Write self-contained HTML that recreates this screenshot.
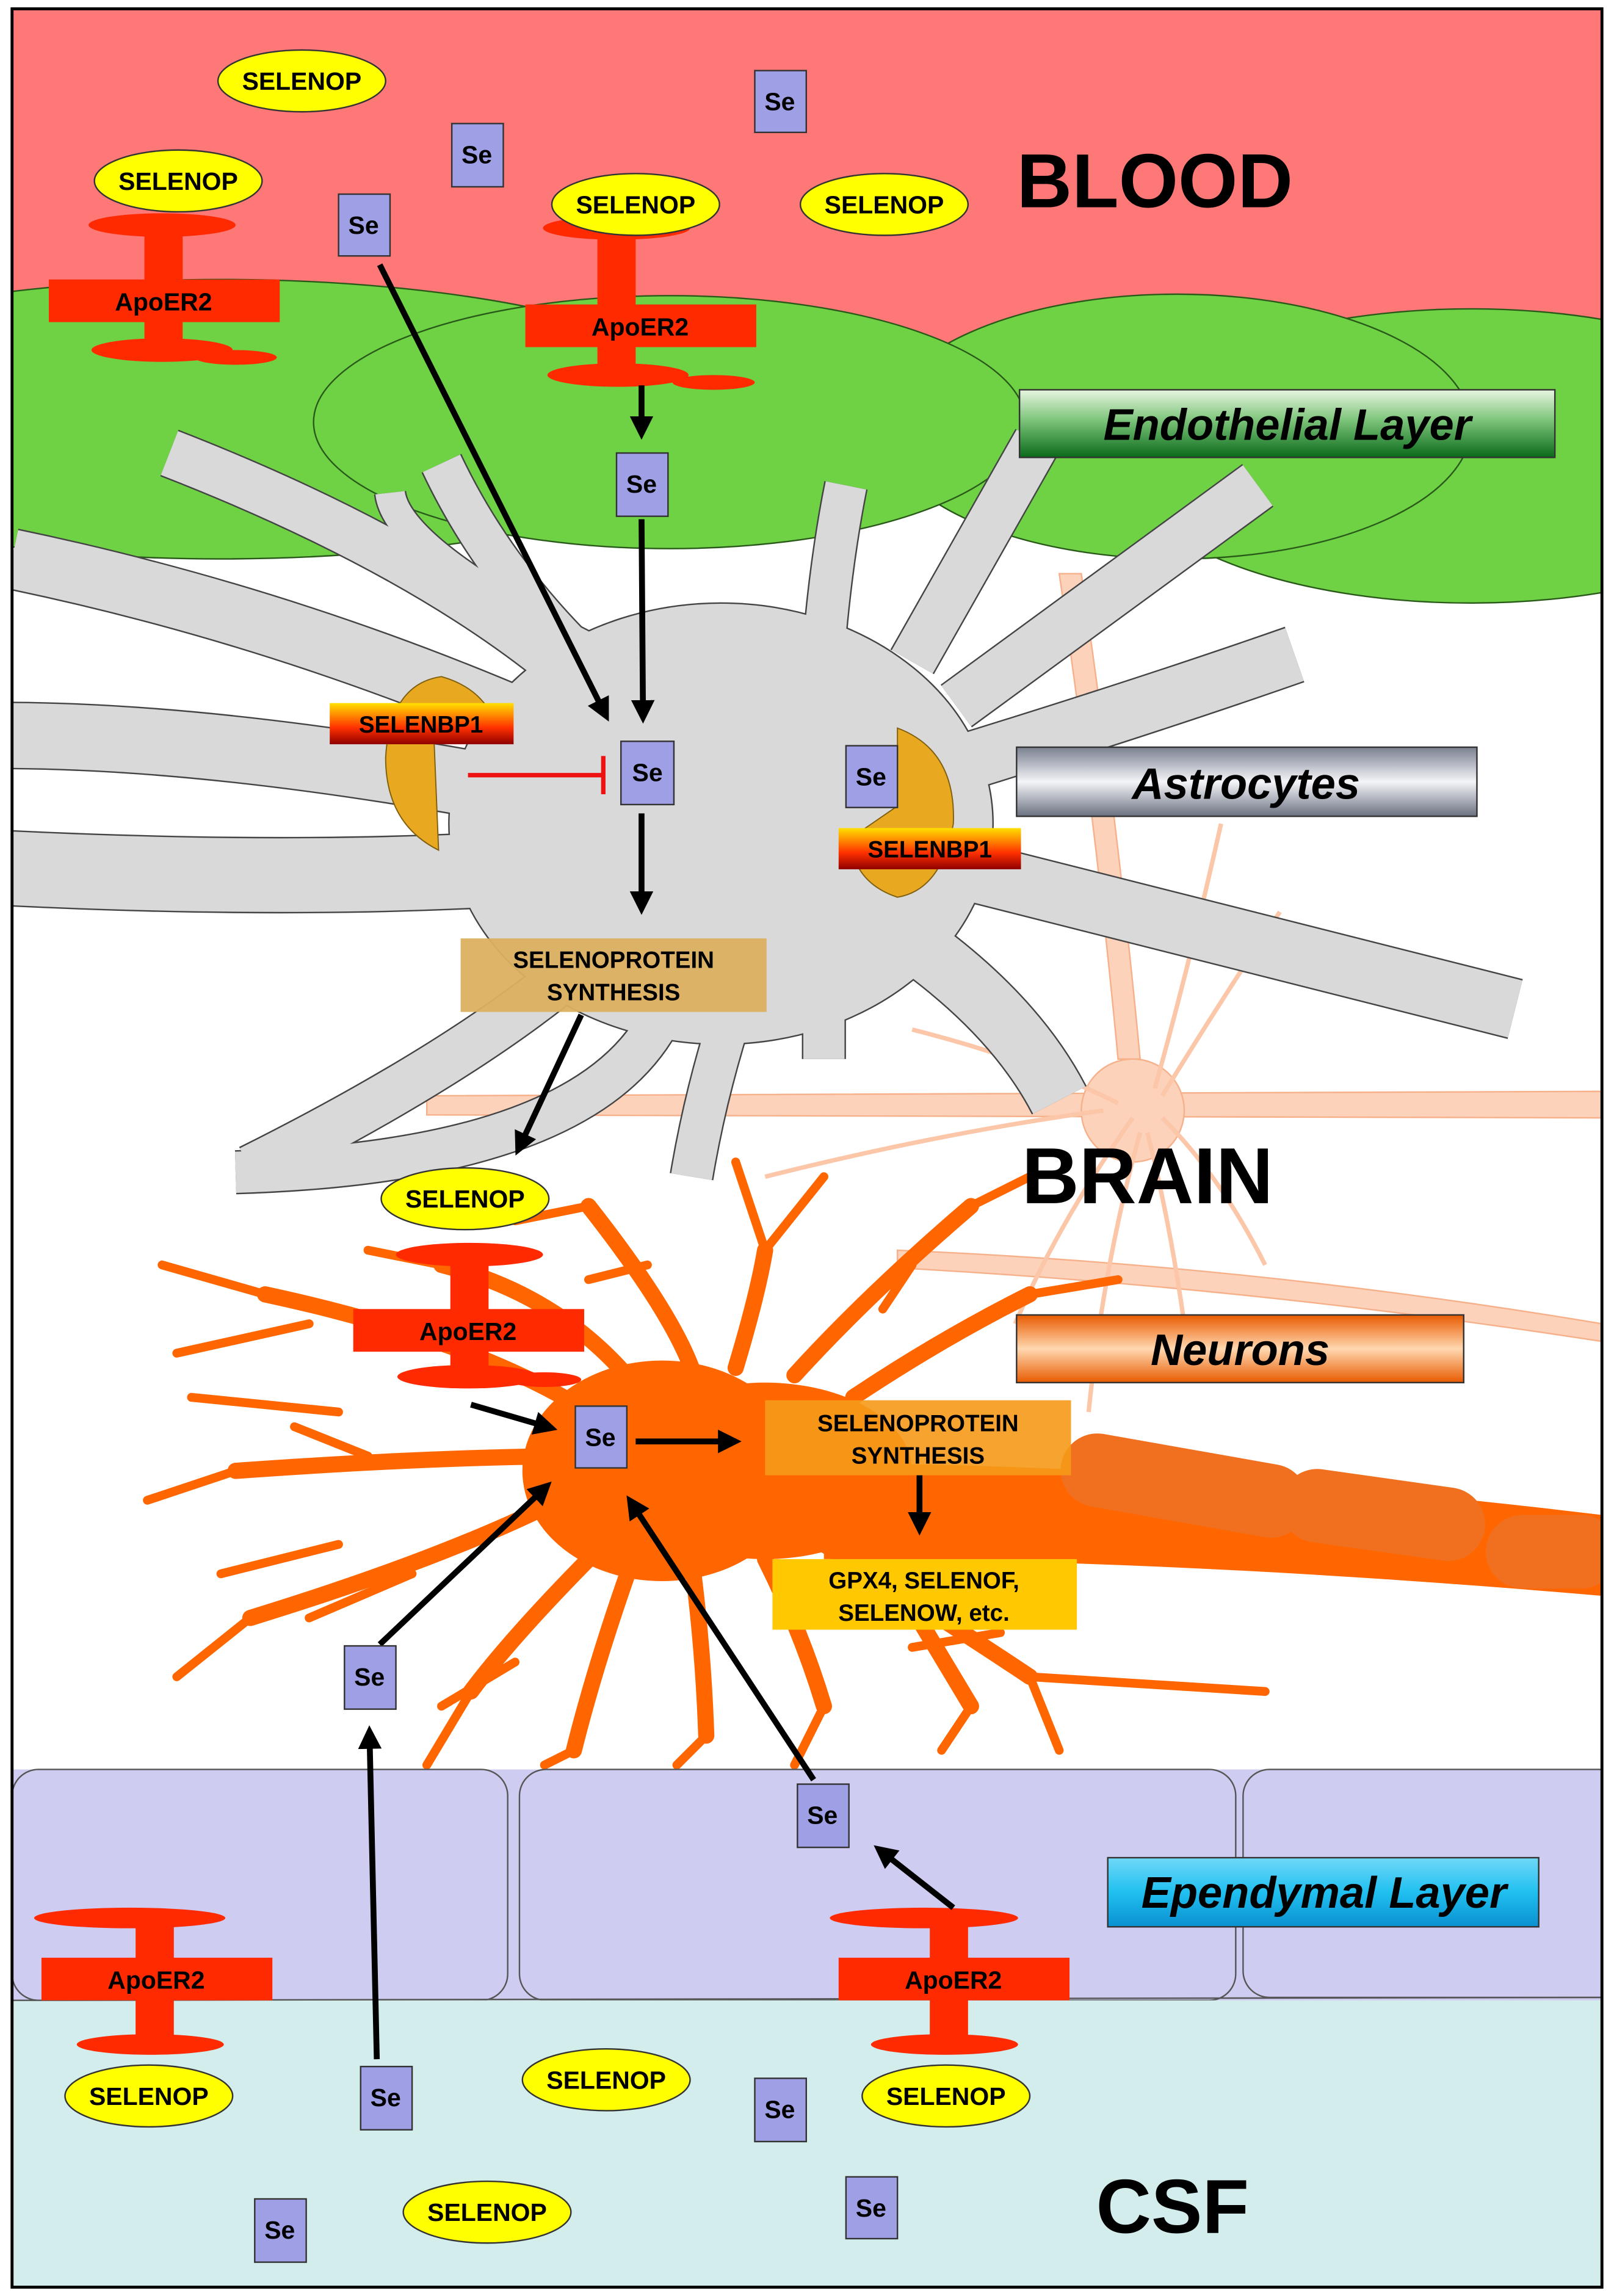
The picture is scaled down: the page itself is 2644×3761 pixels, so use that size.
<!DOCTYPE html>
<html><head><meta charset="utf-8"><style>
html,body{margin:0;padding:0;background:#fff}
svg{display:block}
text{font-family:"Liberation Sans",Arial,sans-serif;font-weight:bold}
</style></head><body>
<svg width="2644" height="3761" viewBox="0 0 1097 1561" xmlns="http://www.w3.org/2000/svg">
<defs>
<clipPath id="inner"><rect x="8" y="6" width="1081" height="1549"/></clipPath>
<linearGradient id="gEndo" x1="0" y1="0" x2="0" y2="1"><stop offset="0" stop-color="#e8f5e0"/><stop offset="0.45" stop-color="#7cc47a"/><stop offset="1" stop-color="#0a6a1a"/></linearGradient>
<linearGradient id="gAstro" x1="0" y1="0" x2="0" y2="1"><stop offset="0" stop-color="#7a8090"/><stop offset="0.5" stop-color="#f4f5f8"/><stop offset="1" stop-color="#6a7080"/></linearGradient>
<linearGradient id="gNeur" x1="0" y1="0" x2="0" y2="1"><stop offset="0" stop-color="#e85a00"/><stop offset="0.5" stop-color="#ffd8b0"/><stop offset="1" stop-color="#e85a00"/></linearGradient>
<linearGradient id="gEpen" x1="0" y1="0" x2="0" y2="1"><stop offset="0" stop-color="#70d8f8"/><stop offset="0.5" stop-color="#20c0f0"/><stop offset="1" stop-color="#0a90d0"/></linearGradient>
<linearGradient id="gBP" x1="0" y1="0" x2="0" y2="1"><stop offset="0" stop-color="#ffe000"/><stop offset="0.6" stop-color="#ff3000"/><stop offset="1" stop-color="#900000"/></linearGradient>
<marker id="ah" markerWidth="4" markerHeight="4" refX="3" refY="2" orient="auto" markerUnits="strokeWidth"><path d="M0,0 L4,2 L0,4 z" fill="#000"/></marker>
</defs>
<rect x="0" y="0" width="1097" height="1561" fill="#fff"/>
<g clip-path="url(#inner)">
<rect x="8" y="6" width="1081" height="300" fill="#ff7878"/>
<ellipse cx="150" cy="285" rx="350" ry="95" fill="#6ed244" stroke="#2a5a1a" stroke-width="1"/>
<ellipse cx="1000" cy="310" rx="240" ry="100" fill="#6ed244" stroke="#2a5a1a" stroke-width="1"/>
<ellipse cx="800" cy="290" rx="200" ry="90" fill="#6ed244" stroke="#2a5a1a" stroke-width="1"/>
<ellipse cx="455" cy="287" rx="242" ry="86" fill="#6ed244" stroke="#2a5a1a" stroke-width="1"/>
<!-- peach neuron -->
<g stroke="#f6b08a" stroke-width="1" fill="#fcd2bb">
<path d="M290,745 L1089,742 L1089,760 L290,758 z"/>
<path d="M610,850 Q850,860 1089,900 L1089,912 Q850,875 610,862 z"/>
<path d="M720,390 Q745,560 760,720 L775,720 Q760,560 735,390 z"/>
<circle cx="770" cy="755" r="35"/>
</g>
<g stroke="#fcc6a8" stroke-width="3" fill="none">
<path d="M770,760 Q720,830 690,900 M775,770 Q750,860 740,960 M780,770 Q800,850 810,940 M790,760 Q830,800 860,860 M760,750 Q700,720 620,700 M750,755 Q640,770 520,800 M790,745 Q830,680 870,620 M785,740 Q810,650 830,560"/>
</g>
<!-- astrocyte -->
<g fill="none" stroke-linecap="butt" stroke-linejoin="round">
<g stroke="#444">
<path stroke-width="34" d="M400,470 Q300,380 115,308"/>
<path stroke-width="42" d="M380,500 Q200,420 8,380"/>
<path stroke-width="46" d="M360,540 Q150,500 0,500"/>
<path stroke-width="52" d="M360,590 Q200,600 0,590"/>
<path stroke-width="34" d="M400,650 Q320,720 170,795"/>
<path stroke-width="30" d="M420,470 Q340,400 300,315"/>
<path stroke-width="22" d="M440,460 Q270,380 265,335"/>
<path stroke-width="30" d="M560,440 Q565,380 575,330"/>
<path stroke-width="34" d="M620,450 Q660,380 705,300"/>
<path stroke-width="36" d="M650,480 Q760,400 855,330"/>
<path stroke-width="40" d="M650,520 Q780,480 880,445"/>
<path stroke-width="42" d="M650,590 Q850,640 1030,686"/>
<path stroke-width="42" d="M620,640 Q690,690 720,748"/>
<path stroke-width="30" d="M560,660 Q560,690 560,720"/>
<path stroke-width="30" d="M500,680 Q480,740 470,800"/>
<path stroke-width="30" d="M450,690 Q400,790 160,797"/>
</g>
<ellipse cx="490" cy="560" rx="185" ry="150" fill="#d9d9d9" stroke="#444" stroke-width="1"/>
<g stroke="#d9d9d9">
<path stroke-width="32" d="M400,470 Q300,380 115,308"/>
<path stroke-width="40" d="M380,500 Q200,420 8,380"/>
<path stroke-width="44" d="M360,540 Q150,500 0,500"/>
<path stroke-width="50" d="M360,590 Q200,600 0,590"/>
<path stroke-width="32" d="M400,650 Q320,720 170,795"/>
<path stroke-width="28" d="M420,470 Q340,400 300,315"/>
<path stroke-width="20" d="M440,460 Q270,380 265,335"/>
<path stroke-width="28" d="M560,440 Q565,380 575,330"/>
<path stroke-width="32" d="M620,450 Q660,380 705,300"/>
<path stroke-width="34" d="M650,480 Q760,400 855,330"/>
<path stroke-width="38" d="M650,520 Q780,480 880,445"/>
<path stroke-width="40" d="M650,590 Q850,640 1030,686"/>
<path stroke-width="40" d="M620,640 Q690,690 720,748"/>
<path stroke-width="28" d="M560,660 Q560,690 560,720"/>
<path stroke-width="28" d="M500,680 Q480,740 470,800"/>
<path stroke-width="28" d="M450,690 Q400,790 160,797"/>
</g>
<ellipse cx="490" cy="560" rx="184" ry="149" fill="#d9d9d9"/>
</g>
<!-- SELENBP1 shapes -->
<path d="M300,460 Q335,470 340,505 L295,505 L298,578 Q262,560 262,515 Q265,465 300,460 z" fill="#e8a820" stroke="#806010" stroke-width="0.8"/>
<path d="M610,495 Q650,510 648,560 Q640,605 610,610 Q580,600 578,570 L610,548 z" fill="#e8a820" stroke="#806010" stroke-width="0.8"/>
<!-- orange neuron -->
<g fill="#ff6600">
<path d="M560,995 Q800,995 1089,1030 L1089,1085 Q800,1060 560,1060 z"/>
<ellipse cx="450" cy="1000" rx="95" ry="75"/>
<ellipse cx="520" cy="1000" rx="100" ry="60"/>
</g>
<g fill="#f07020">
<rect x="720" y="985" width="170" height="50" rx="25" transform="rotate(10 805 1010)"/>
<rect x="870" y="1005" width="140" height="50" rx="25" transform="rotate(8 940 1030)"/>
<rect x="1010" y="1030" width="90" height="50" rx="25"/>
</g>
<g stroke="#ff6600" fill="none" stroke-linecap="round">
<path stroke-width="11" d="M400,960 Q320,910 180,880 M400,990 Q300,990 160,1000 M380,1020 Q300,1060 170,1100 M410,1050 Q350,1110 320,1150 M430,1060 Q405,1130 390,1190 M470,1060 Q478,1120 480,1180 M520,1060 Q545,1110 560,1160 M560,1050 Q640,1100 700,1140 M600,1060 Q630,1110 660,1160 M470,930 Q455,890 400,820 M500,930 Q515,880 520,850 M540,935 Q590,880 660,820 M580,950 Q640,910 700,880 M430,940 Q380,880 300,860"/>
<path stroke-width="6" d="M180,880 L110,860 M210,900 L120,920 M160,1000 L100,1020 M250,990 L200,970 M170,1100 L120,1140 M280,1070 L210,1100 M320,1150 L290,1200 M390,1190 L370,1200 M480,1180 L460,1200 M560,1160 L540,1200 M700,1140 L860,1150 M700,1140 L720,1190 M660,1160 L640,1190 M440,860 L400,870 M520,850 L500,790 M520,850 L560,800 M660,820 L700,800 M400,820 L350,830 M700,880 L760,870 M300,860 L250,850 M230,1050 L150,1070 M350,1130 L300,1160 M620,1120 L680,1110 M230,960 L130,950 M600,890 L620,860"/>
</g>
<!-- ependymal -->
<rect x="8" y="1203" width="1081" height="160" fill="#cfccf2"/>
<rect x="8" y="1203" width="337" height="157" rx="18" fill="#cfccf2" stroke="#555" stroke-width="1"/>
<rect x="353" y="1203" width="487" height="157" rx="18" fill="#cfccf2" stroke="#555" stroke-width="1"/>
<rect x="845" y="1203" width="260" height="155" rx="18" fill="#cfccf2" stroke="#555" stroke-width="1"/>
<rect x="8" y="1360" width="1081" height="195" fill="#d3ecec"/>
<line x1="8" y1="1360" x2="1089" y2="1358" stroke="#555" stroke-width="1"/>
</g>
<!-- labels -->
<text x="785" y="141" font-size="52" text-anchor="middle">BLOOD</text>
<text x="780" y="818" font-size="54" text-anchor="middle">BRAIN</text>
<text x="797" y="1518" font-size="52" text-anchor="middle">CSF</text>
<rect x="693" y="265" width="364" height="46" fill="url(#gEndo)" stroke="#333"/>
<text x="875" y="299" font-size="30" font-style="italic" text-anchor="middle">Endothelial Layer</text>
<rect x="691" y="508" width="313" height="47" fill="url(#gAstro)" stroke="#333"/>
<text x="847" y="543" font-size="30" font-style="italic" text-anchor="middle">Astrocytes</text>
<rect x="691" y="894" width="304" height="46" fill="url(#gNeur)" stroke="#333"/>
<text x="843" y="928" font-size="30" font-style="italic" text-anchor="middle">Neurons</text>
<rect x="753" y="1263" width="293" height="47" fill="url(#gEpen)" stroke="#333"/>
<text x="900" y="1297" font-size="30" font-style="italic" text-anchor="middle">Ependymal Layer</text>
<rect x="224" y="478" width="125" height="28" fill="url(#gBP)"/>
<text x="286" y="498" font-size="16" text-anchor="middle">SELENBP1</text>
<rect x="570" y="563" width="124" height="28" fill="url(#gBP)"/>
<text x="632" y="583" font-size="16" text-anchor="middle">SELENBP1</text>
<line x1="318" y1="527" x2="410" y2="527" stroke="#ee1111" stroke-width="3"/>
<line x1="410" y1="514" x2="410" y2="540" stroke="#ee1111" stroke-width="3"/>
<rect x="313" y="638" width="208" height="50" fill="#dcb060" opacity="0.95"/>
<text x="417" y="658" font-size="16" text-anchor="middle">SELENOPROTEIN</text>
<text x="417" y="680" font-size="16" text-anchor="middle">SYNTHESIS</text>
<rect x="520" y="952" width="208" height="51" fill="#f59a18" opacity="0.9"/>
<text x="624" y="973" font-size="16" text-anchor="middle">SELENOPROTEIN</text>
<text x="624" y="995" font-size="16" text-anchor="middle">SYNTHESIS</text>
<rect x="525" y="1060" width="207" height="48" fill="#ffc800"/>
<text x="628" y="1080" font-size="16" text-anchor="middle">GPX4, SELENOF,</text>
<text x="628" y="1102" font-size="16" text-anchor="middle">SELENOW, etc.</text>
<g fill="#ff2a00">
<ellipse cx="110" cy="153" rx="50" ry="8"/><rect x="98" y="153" width="26" height="90"/><rect x="33" y="190" width="157" height="29"/><ellipse cx="110" cy="238" rx="48" ry="8"/><ellipse cx="160" cy="243" rx="28" ry="5"/>
<ellipse cx="419" cy="155" rx="50" ry="8"/><rect x="406" y="155" width="26" height="100"/><rect x="357" y="207" width="157" height="29"/><ellipse cx="420" cy="255" rx="48" ry="8"/><ellipse cx="485" cy="260" rx="28" ry="5"/>
<ellipse cx="319" cy="853" rx="50" ry="8"/><rect x="306" y="853" width="26" height="85"/><rect x="240" y="890" width="157" height="29"/><ellipse cx="318" cy="936" rx="48" ry="8"/><ellipse cx="370" cy="938" rx="25" ry="5"/>
<ellipse cx="88" cy="1304" rx="65" ry="7"/><rect x="92" y="1304" width="26" height="88"/><rect x="28" y="1331" width="157" height="29"/><ellipse cx="102" cy="1390" rx="50" ry="7"/>
<ellipse cx="628" cy="1304" rx="64" ry="7"/><rect x="632" y="1304" width="26" height="88"/><rect x="570" y="1331" width="157" height="29"/><ellipse cx="642" cy="1390" rx="50" ry="7"/>
</g>
<g font-size="17" text-anchor="middle">
<text x="111" y="211">ApoER2</text><text x="435" y="228">ApoER2</text><text x="318" y="911">ApoER2</text><text x="106" y="1352">ApoER2</text><text x="648" y="1352">ApoER2</text>
</g>
<g fill="#ffff00" stroke="#333" stroke-width="1">
<ellipse cx="205" cy="55" rx="57" ry="21"/><ellipse cx="121" cy="123" rx="57" ry="21"/><ellipse cx="432" cy="139" rx="57" ry="21"/><ellipse cx="601" cy="139" rx="57" ry="21"/><ellipse cx="316" cy="815" rx="57" ry="21"/><ellipse cx="101" cy="1425" rx="57" ry="21"/><ellipse cx="412" cy="1414" rx="57" ry="21"/><ellipse cx="643" cy="1425" rx="57" ry="21"/><ellipse cx="331" cy="1504" rx="57" ry="21"/>
</g>
<g font-size="17" text-anchor="middle">
<text x="205" y="61">SELENOP</text><text x="121" y="129">SELENOP</text><text x="432" y="145">SELENOP</text><text x="601" y="145">SELENOP</text><text x="316" y="821">SELENOP</text><text x="101" y="1431">SELENOP</text><text x="412" y="1420">SELENOP</text><text x="643" y="1431">SELENOP</text><text x="331" y="1510">SELENOP</text>
</g>
<g stroke="#000" stroke-width="4" fill="none" marker-end="url(#ah)">
<line x1="258" y1="180" x2="412" y2="487"/>
<line x1="436" y1="262" x2="436" y2="295"/>
<line x1="436" y1="353" x2="437" y2="488"/>
<line x1="436" y1="553" x2="436" y2="618"/>
<line x1="395" y1="690" x2="352" y2="782"/>
<line x1="320" y1="955" x2="375" y2="971"/>
<line x1="432" y1="980" x2="500" y2="980"/>
<line x1="625" y1="1003" x2="625" y2="1040"/>
<line x1="258" y1="1118" x2="372" y2="1010"/>
<line x1="553" y1="1210" x2="428" y2="1020"/>
<line x1="256" y1="1400" x2="251" y2="1177"/>
<line x1="648" y1="1297" x2="597" y2="1257"/>
</g>
<g fill="#9f9fe6" stroke="#333" stroke-width="1">
<rect x="513" y="48" width="35" height="42"/><rect x="307" y="84" width="35" height="43"/><rect x="230" y="132" width="35" height="42"/><rect x="419" y="308" width="35" height="43"/><rect x="422" y="504" width="36" height="43"/><rect x="575" y="507" width="35" height="42"/><rect x="391" y="956" width="35" height="42"/><rect x="234" y="1119" width="35" height="43"/><rect x="542" y="1213" width="35" height="43"/><rect x="245" y="1405" width="35" height="43"/><rect x="513" y="1413" width="35" height="43"/><rect x="575" y="1480" width="35" height="42"/><rect x="173" y="1495" width="35" height="43"/>
</g>
<g font-size="17" text-anchor="middle">
<text x="530" y="75">Se</text><text x="324" y="111">Se</text><text x="247" y="159">Se</text><text x="436" y="335">Se</text><text x="440" y="531">Se</text><text x="592" y="534">Se</text><text x="408" y="983">Se</text><text x="251" y="1146">Se</text><text x="559" y="1240">Se</text><text x="262" y="1432">Se</text><text x="530" y="1440">Se</text><text x="592" y="1507">Se</text><text x="190" y="1522">Se</text>
</g>
<rect x="8" y="6" width="1081" height="1549" fill="none" stroke="#000" stroke-width="2"/>
</svg>
</body></html>
